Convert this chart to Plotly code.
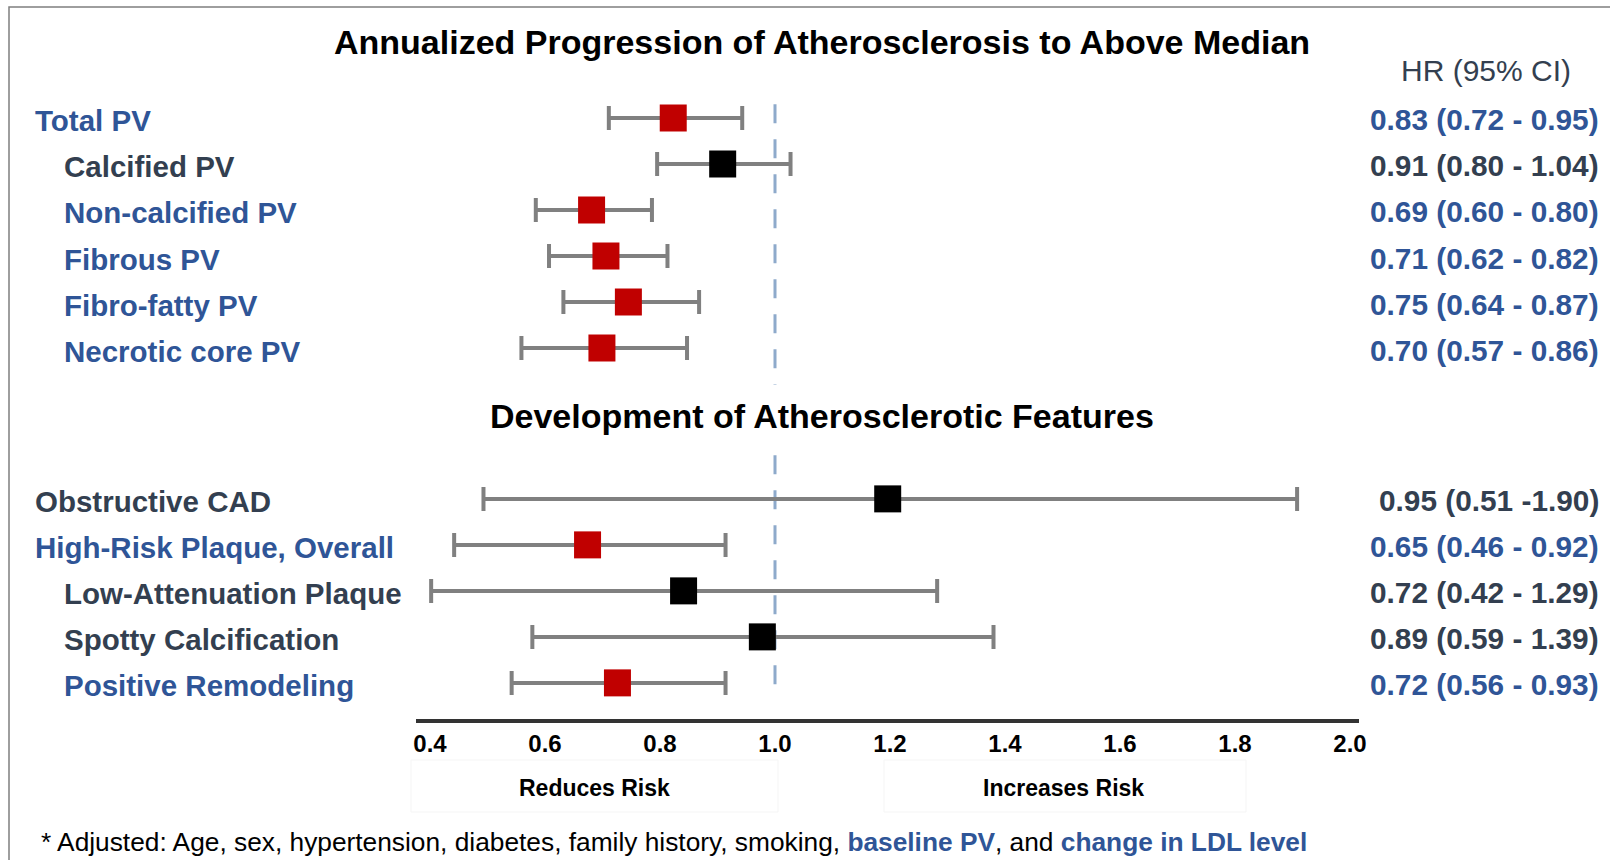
import plotly.graph_objects as go

# ---------------- data ----------------
top_labels = ["Total PV", "Calcified PV", "Non-calcified PV", "Fibrous PV",
              "Fibro-fatty PV", "Necrotic core PV"]
top_indent = [0, 1, 1, 1, 1, 1]
top_hr = [0.823, 0.909, 0.681, 0.706, 0.745, 0.699]      # plotted marker position
top_lo = [0.711, 0.795, 0.584, 0.607, 0.632, 0.559]
top_hi = [0.943, 1.027, 0.786, 0.813, 0.868, 0.847]
top_text = ["0.83 (0.72 - 0.95)", "0.91 (0.80 - 1.04)", "0.69 (0.60 - 0.80)",
            "0.71 (0.62 - 0.82)", "0.75 (0.64 - 0.87)", "0.70 (0.57 - 0.86)"]
top_reported_hi = [0.95, 1.04, 0.80, 0.82, 0.87, 0.86]

bot_labels = ["Obstructive CAD", "High-Risk Plaque, Overall", "Low-Attenuation Plaque",
              "Spotty Calcification", "Positive Remodeling"]
bot_indent = [0, 0, 1, 1, 1]
bot_hr = [1.196, 0.674, 0.841, 0.978, 0.726]
bot_lo = [0.493, 0.442, 0.402, 0.578, 0.542]
bot_hi = [1.908, 0.914, 1.282, 1.380, 0.914]
bot_text = ["0.95 (0.51 -1.90)", "0.65 (0.46 - 0.92)", "0.72 (0.42 - 1.29)",
            "0.89 (0.59 - 1.39)", "0.72 (0.56 - 0.93)"]
bot_reported_hi = [1.90, 0.92, 1.29, 1.39, 0.93]

x_ticks = [0.4, 0.6, 0.8, 1.0, 1.2, 1.4, 1.6, 1.8, 2.0]
ref_value = 1.0

title_top = "Annualized Progression of Atherosclerosis to Above Median"
title_bot = "Development of Atherosclerotic Features"
col_header = "HR (95% CI)"
footnote = ("* Adjusted: Age, sex, hypertension, diabetes, family history, smoking, "
            "<b><span style='color:#2F5597'>baseline PV</span></b>, and "
            "<b><span style='color:#2F5597'>change in LDL level</span></b>")

# ---------------- layout helpers ----------------
W, H = 1610, 860
BLUE = "#2F5597"
DARK = "#333F50"
RED = "#C00000"
GRAY = "#808080"
FONT = "Liberation Sans, Arial, sans-serif"

BOTTOM_START = 8.28
top_y = list(range(len(top_labels)))
bot_y = [BOTTOM_START + i for i in range(len(bot_labels))]

labels = top_labels + bot_labels
indent = top_indent + bot_indent
hr = top_hr + bot_hr
lo = top_lo + bot_lo
hi = top_hi + bot_hi
texts = top_text + bot_text
sig = [h < 1 for h in top_reported_hi + bot_reported_hi]
ys = top_y + bot_y

fig = go.Figure()

for is_sig, col in [(True, RED), (False, "#000000")]:
    idx = [i for i in range(len(hr)) if sig[i] == is_sig]
    fig.add_trace(go.Scatter(
        x=[hr[i] for i in idx], y=[ys[i] for i in idx], mode="markers",
        marker=dict(symbol="square", size=27, color=col, line=dict(width=0)),
        error_x=dict(type="data", symmetric=False,
                     array=[hi[i] - hr[i] for i in idx],
                     arrayminus=[hr[i] - lo[i] for i in idx],
                     color=GRAY, thickness=4, width=12),
        showlegend=False, hoverinfo="skip"))

# reference dashed line (two segments, interrupted by the section title)
for y0, y1 in [(-0.30, 5.80), (7.33, 12.33)]:
    fig.add_shape(type="line", xref="x", yref="y", x0=ref_value, x1=ref_value,
                  y0=y0, y1=y1, line=dict(color="#8EAACB", width=3, dash="19px,16px"),
                  layer="below")

ann = []
for lab, ind, y, t, s in zip(labels, indent, ys, texts, sig):
    c = BLUE if s else DARK
    ann.append(dict(text=f"<b>{lab}</b>", xref="paper", yref="y",
                    x=(33 if ind == 0 else 62) / W, y=y, xanchor="left", yanchor="middle",
                    showarrow=False, font=dict(family=FONT, size=29.5, color=c), yshift=-3))
    ann.append(dict(text=f"<b>{t}</b>", xref="paper", yref="y",
                    x=1601 / W, y=y, xanchor="right", yanchor="middle",
                    showarrow=False, font=dict(family=FONT, size=29.8, color=c), yshift=-2))

ann.append(dict(text=f"<b>{title_top}</b>", xref="paper", yref="paper",
                x=822 / W, y=1 - 42 / H, xanchor="center", yanchor="middle", showarrow=False,
                font=dict(family=FONT, size=34, color="#000000")))
ann.append(dict(text=f"<b>{title_bot}</b>", xref="paper", yref="paper",
                x=822 / W, y=1 - 416 / H, xanchor="center", yanchor="middle", showarrow=False,
                font=dict(family=FONT, size=34, color="#000000")))
ann.append(dict(text=col_header, xref="paper", yref="paper",
                x=1486 / W, y=1 - 70 / H, xanchor="center", yanchor="middle", showarrow=False,
                font=dict(family=FONT, size=30, color=DARK)))
ann.append(dict(text="<b>Reduces Risk</b>", xref="paper", yref="paper",
                x=594 / W, y=1 - 788 / H, xanchor="center", yanchor="middle", showarrow=False,
                font=dict(family=FONT, size=23, color="#000000")))
ann.append(dict(text="<b>Increases Risk</b>", xref="paper", yref="paper",
                x=1063 / W, y=1 - 788 / H, xanchor="center", yanchor="middle", showarrow=False,
                font=dict(family=FONT, size=23, color="#000000")))
ann.append(dict(text=footnote, xref="paper", yref="paper",
                x=39 / W, y=1 - 842 / H, xanchor="left", yanchor="middle", showarrow=False,
                font=dict(family=FONT, size=26.3, color="#000000")))

shapes = [
    dict(type="rect", xref="paper", yref="paper", x0=9 / W, x1=1.02, y0=-0.02, y1=1 - 7 / H,
         line=dict(color="#7F7F7F", width=1.5), layer="below"),
    dict(type="rect", xref="paper", yref="paper", x0=411 / W, x1=778 / W,
         y0=1 - 812 / H, y1=1 - 760 / H, line=dict(color="#F5F5F5", width=1), layer="below"),
    dict(type="rect", xref="paper", yref="paper", x0=884 / W, x1=1246 / W,
         y0=1 - 812 / H, y1=1 - 760 / H, line=dict(color="#F5F5F5", width=1), layer="below"),
]
for s in shapes:
    fig.add_shape(**s)

# pixel calibration of the axis: 1.0 at x=775px, 575 px per unit
PX_REF, PPU = 775, 575
ax_left, ax_right = 416, 1359
ax_bottom_px, ax_top_px = 719, 90
ROW_PX, ROW0_PX = 46, 118

fig.update_layout(
    width=W, height=H, margin=dict(l=0, r=0, t=0, b=0, autoexpand=False),
    autosize=False,
    paper_bgcolor="white", plot_bgcolor="white",
    annotations=ann,
    xaxis=dict(domain=[ax_left / W, ax_right / W],
               range=[1.0 + (ax_left - PX_REF) / PPU, 1.0 + (ax_right - PX_REF) / PPU],
               tickvals=x_ticks, ticktext=[f"{v:.1f}" for v in x_ticks],
               showline=True, linecolor="#333333", linewidth=4, showgrid=False,
               zeroline=False, ticks="", ticklabelstandoff=0,
               tickfont=dict(family=FONT, size=24, color="#000000", weight="bold")),
    yaxis=dict(domain=[1 - ax_bottom_px / H, 1 - ax_top_px / H],
               range=[(ax_bottom_px - ROW0_PX) / ROW_PX, (ax_top_px - ROW0_PX) / ROW_PX],
               visible=False, showgrid=False, zeroline=False),
)

fig.write_html("out.html", config={"responsive": False})
